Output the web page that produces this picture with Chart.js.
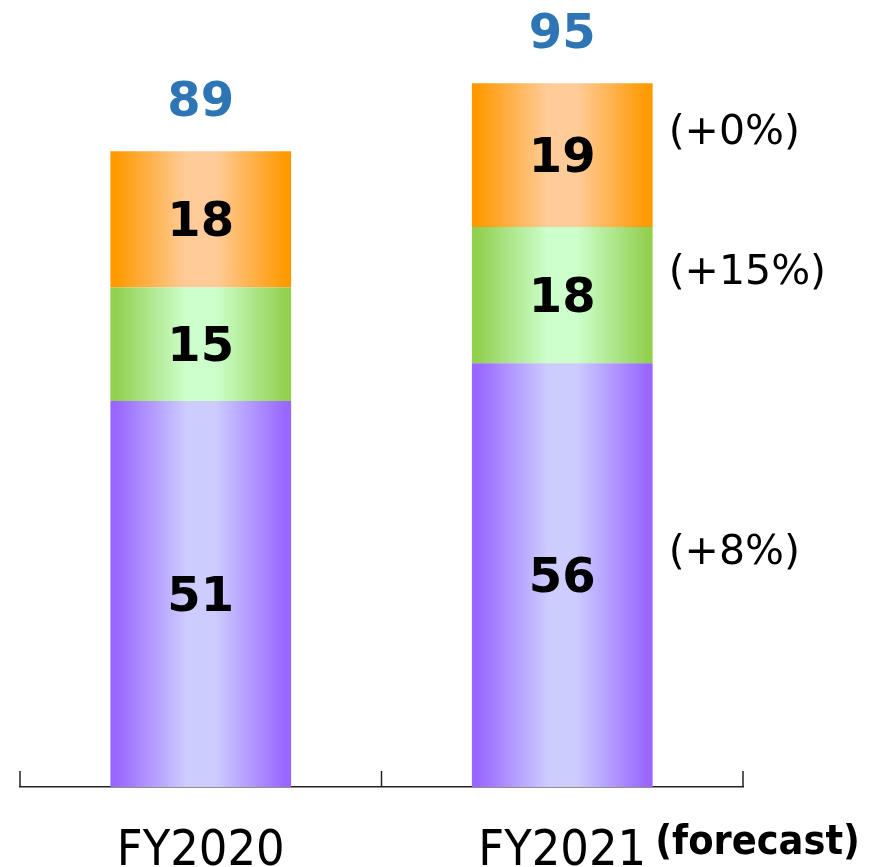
<!DOCTYPE html>
<html>
<head>
<meta charset="utf-8">
<script src="https://cdn.jsdelivr.net/npm/chart.js@4.4.0/dist/chart.umd.min.js"></script>
<style>
  html, body { margin: 0; padding: 0; background: #fff; }
  canvas { display: block; }
</style>
</head>
<body>
<canvas id="salesChart" width="870" height="867"></canvas>
<script>
// chart values
const categories = ['FY2020', 'FY2021'];
const purpleValues = [51, 56];
const greenValues = [15, 18];
const orangeValues = [18, 19];
const totals = [89, 95];
const changeLabels = ['(+8%)', '(+15%)', '(+0%)']; // FY2021 vs FY2020, bottom -> top
const forecastNote = '(forecast)';

// horizontal "cylinder" gradient for each bar
function barGradient(edge, mid) {
    return function (context) {
        const chart = context.chart;
        const xScale = chart.scales.x;
        if (!chart.chartArea || !xScale || context.dataIndex === undefined) {
            return edge;
        }
        const cx = xScale.getPixelForValue(context.dataIndex);
        const half = (xScale.width / categories.length) * 0.5 / 2;
        const g = chart.ctx.createLinearGradient(cx - half, 0, cx + half, 0);
        g.addColorStop(0, edge);
        g.addColorStop(0.03, edge);
        g.addColorStop(0.42, mid);
        g.addColorStop(0.58, mid);
        g.addColorStop(0.97, edge);
        g.addColorStop(1, edge);
        return g;
    };
}

const labelPlugin = {
    id: 'barLabels',
    afterDatasetsDraw(chart) {
        const c = chart.ctx;
        const area = chart.chartArea;
        c.save();

        // values inside each segment
        c.textAlign = 'center';
        c.textBaseline = 'middle';
        c.font = 'bold 48px "DejaVu Sans"';
        c.fillStyle = '#000';
        chart.data.datasets.forEach(function (ds, i) {
            chart.getDatasetMeta(i).data.forEach(function (bar, j) {
                c.fillText(ds.data[j], bar.x, (bar.y + bar.base) / 2 + 4);
            });
        });

        // totals above the bars
        const topMeta = chart.getDatasetMeta(chart.data.datasets.length - 1);
        c.fillStyle = '#2e75b6';
        topMeta.data.forEach(function (bar, j) {
            c.fillText(totals[j], bar.x, bar.y - 48);
        });

        // growth rates beside FY2021
        c.font = '41px "DejaVu Sans"';
        c.fillStyle = '#000';
        c.textAlign = 'left';
        chart.data.datasets.forEach(function (ds, i) {
            const bar = chart.getDatasetMeta(i).data[1];
            c.fillText(changeLabels[i], bar.x + bar.width / 2 + 16, (bar.y + bar.base) / 2 - 22);
        });

        // short tick marks on the axis
        const xScale = chart.scales.x;
        const mid = (xScale.getPixelForValue(0) + xScale.getPixelForValue(1)) / 2;
        c.strokeStyle = '#222';
        c.lineWidth = 1.5;
        [area.left, mid, area.right].forEach(function (x) {
            c.beginPath();
            c.moveTo(x, area.bottom - 16);
            c.lineTo(x, area.bottom);
            c.stroke();
        });

        // forecast note after the FY2021 label
        c.font = 'bold 41px "DejaVu Sans Condensed", "DejaVu Sans"';
        c.textBaseline = 'middle';
        c.fillText(forecastNote, xScale.getPixelForValue(1) + 93, 843);

        c.restore();
    }
};

const config = {
    type: 'bar',
    data: {
        labels: categories,
        datasets: [{
            label: 'purple',
            data: purpleValues,
            backgroundColor: barGradient('#9966ff', '#ccccff')
        }, {
            label: 'green',
            data: greenValues,
            backgroundColor: barGradient('#92d050', '#ccffcc')
        }, {
            label: 'orange',
            data: orangeValues,
            backgroundColor: barGradient('#ff9900', '#ffcc99')
        }]
    },
    options: {
        responsive: false,
        animation: false,
        barPercentage: 0.5,
        categoryPercentage: 1.0,
        layout: {
            padding: { left: 20, right: 127, top: 0, bottom: 0 }
        },
        plugins: {
            legend: { display: false },
            tooltip: { enabled: false }
        },
        scales: {
            x: {
                stacked: true,
                grid: { display: false },
                border: { display: true, color: '#222', width: 1.5 },
                afterFit: function (scale) { scale.height = 80; },
                ticks: {
                    color: '#000',
                    padding: 32,
                    font: {
                        family: '"DejaVu Sans Condensed", "Liberation Sans Narrow", sans-serif',
                        size: 50,
                        lineHeight: 1.0
                    }
                }
            },
            y: {
                stacked: true,
                display: false,
                min: 0,
                max: 104
            }
        }
    },
    plugins: [labelPlugin]
};

var ctx = document.getElementById('salesChart').getContext('2d');
var salesChart = new Chart(ctx, config);
</script>
</body>
</html>
